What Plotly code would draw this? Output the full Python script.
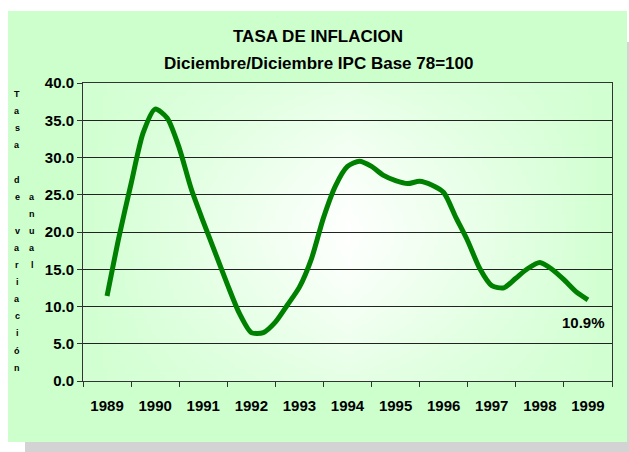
import base64, struct, zlib
import numpy as np
import plotly.graph_objects as go

# ---- data ----
years = [1989, 1990, 1991, 1992, 1993, 1994, 1995, 1996, 1997, 1998, 1999]
year_labels = ["1989", "1990", "1991", "1992", "1993", "1994", "1995", "1996", "1997", "1998", "1999"]
t = [1989.00, 1989.25, 1989.50, 1989.75,
     1990.00, 1990.25, 1990.50, 1990.75,
     1991.00, 1991.25, 1991.50, 1991.75,
     1992.00, 1992.25, 1992.50, 1992.75,
     1993.00, 1993.25, 1993.50, 1993.75,
     1994.00, 1994.25, 1994.50, 1994.75,
     1995.00, 1995.25, 1995.50, 1995.75,
     1996.00, 1996.25, 1996.50, 1996.75,
     1997.00, 1997.25, 1997.50, 1997.75,
     1998.00, 1998.25, 1998.50, 1998.75,
     1999.00]
inflation = [11.4, 19.4, 26.5, 33.3,
             36.5, 35.3, 31.3, 25.8,
             21.4, 17.2, 13.0, 9.1,
             6.5, 6.5, 7.9, 10.2,
             12.6, 16.4, 21.9, 26.2,
             28.8, 29.5, 28.8, 27.6,
             26.9, 26.5, 26.8, 26.3,
             25.3, 22.0, 18.8, 15.1,
             12.8, 12.5, 13.8, 15.1,
             15.9, 15.0, 13.6, 12.0,
             10.9]
y_ticks = [0, 5, 10, 15, 20, 25, 30, 35, 40]
y_title_col1 = "Tasa de variación"
y_title_col2 = "anual"

# ---- geometry (pixels) ----
W, H = 629, 452
L, R, T, B = 83, 612, 83, 381
pw, ph = R - L, B - T

def px(x):
    return (x - L) / pw

def py(y):
    return (B - y) / ph

# ---- gradient background image for the plot area ----
def png_uri(arr):
    h, w, _ = arr.shape
    raw = b"".join(b"\x00" + arr[i].tobytes() for i in range(h))
    def chunk(tag, data):
        return struct.pack(">I", len(data)) + tag + data + struct.pack(">I", zlib.crc32(tag + data) & 0xFFFFFFFF)
    png = (b"\x89PNG\r\n\x1a\n" + chunk(b"IHDR", struct.pack(">IIBBBBB", w, h, 8, 2, 0, 0, 0))
           + chunk(b"IDAT", zlib.compress(raw)) + chunk(b"IEND", b""))
    return "data:image/png;base64," + base64.b64encode(png).decode()

gw, gh = 120, 60
gx = np.abs(np.linspace(-1, 1, gw))[None, :]
gy = np.abs(np.linspace(-1, 1, gh))[:, None]
deficit = 46 * (1 - (1 - gx) ** 0.9 * (1 - 0.55 * gy ** 1.5))
rb = (255 - deficit).clip(0, 255)
img = np.zeros((gh, gw, 3), dtype=np.uint8)
img[..., 0] = rb.astype(np.uint8)
img[..., 1] = 255
img[..., 2] = rb.astype(np.uint8)

fig = go.Figure()
fig.add_trace(go.Scatter(
    x=t, y=inflation, mode="lines",
    line=dict(color="#008000", width=5, shape="spline", smoothing=0.7),
    hoverinfo="skip", showlegend=False,
))

font = "Arial, 'Liberation Sans', sans-serif"

shapes = [
    dict(type="rect", xref="paper", yref="paper", x0=px(25), x1=px(640), y0=py(42), y1=py(470),
         fillcolor="#D3D3D3", line=dict(width=0), layer="below"),
    dict(type="rect", xref="paper", yref="paper", x0=px(8), x1=px(627), y0=py(11), y1=py(442),
         fillcolor="#CCFFCC", line=dict(width=0), layer="below"),
]

def ann(text, x, y, size, **kw):
    d = dict(text=text, xref="paper", yref="paper", x=x, y=y, showarrow=False,
             xanchor="center", yanchor="middle", font=dict(family=font, size=size, color="black"))
    d.update(kw)
    return d

annotations = [
    ann("<b>TASA DE INFLACION</b>", px(318), py(37), 17),
    ann("<b>Diciembre/Diciembre IPC Base 78=100</b>", px(318), py(63), 17),
    ann(f"<b>{inflation[-1]}%</b>", t[-1], inflation[-1], 15, xref="x", yref="y", yshift=-23, xshift=-4),
]

# stacked vertical axis title
row0, step = 94, 17.1
for i, ch in enumerate(y_title_col1):
    if ch != " ":
        annotations.append(ann(f"<b>{ch}</b>", px(17), py(row0 + i * step), 9))
start2 = (len(y_title_col1) - len(y_title_col2)) // 2
for i, ch in enumerate(y_title_col2):
    annotations.append(ann(f"<b>{ch}</b>", px(32), py(row0 + (start2 + i) * step), 9))

fig.update_layout(
    width=W, height=H,
    margin=dict(l=L, r=W - R, t=T, b=H - B, pad=0),
    paper_bgcolor="white",
    plot_bgcolor="rgba(0,0,0,0)",
    shapes=shapes,
    annotations=annotations,
    images=[dict(source=png_uri(img), xref="x domain", yref="y domain", x=0, y=1, sizex=1, sizey=1,
                 sizing="stretch", xanchor="left", yanchor="top", layer="below")],
    xaxis=dict(
        range=[years[0] - 0.5, years[-1] + 0.5],
        tickvals=years, ticktext=[f"<b>{s}</b>" for s in year_labels],
        ticks="outside", ticklen=11, tickcolor="rgba(0,0,0,0)",
        showgrid=False, zeroline=False,
        showline=True, linecolor="#333333", linewidth=1, mirror=True,
        tickfont=dict(family=font, size=15, color="black"),
        minor=dict(tickmode="array", tickvals=[y - 0.5 for y in years] + [years[-1] + 0.5],
                   ticks="outside", ticklen=5, tickcolor="#333333", tickwidth=1, showgrid=False),
        fixedrange=True,
    ),
    yaxis=dict(
        range=[0, 40], tickvals=y_ticks, ticktext=[f"<b>{v:.1f}</b>" for v in y_ticks],
        ticks="outside", ticklen=5, tickcolor="#333333",
        showgrid=True, gridcolor="#222222", gridwidth=1, zeroline=False,
        showline=True, linecolor="#333333", linewidth=1, mirror=True,
        tickfont=dict(family=font, size=15, color="black"),
        fixedrange=True,
    ),
)

fig.write_html("out.html", config={"displayModeBar": False},
               post_script="document.body.style.margin='0';document.body.style.overflow='hidden';")
